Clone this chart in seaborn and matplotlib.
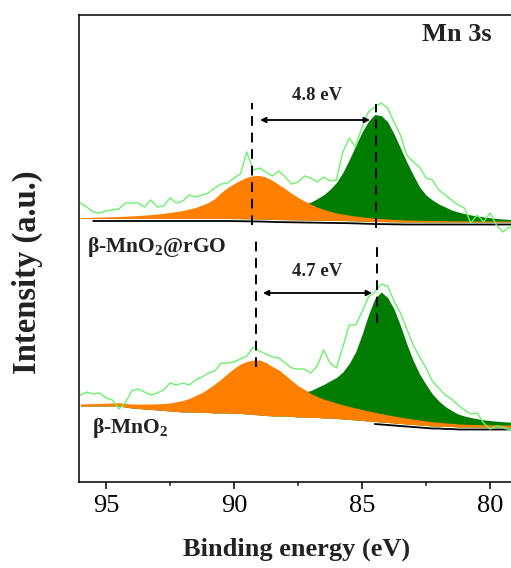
import numpy as np
import pandas as pd
import matplotlib
matplotlib.use("Agg")
import matplotlib.pyplot as plt
from matplotlib.ticker import MultipleLocator
import seaborn as sns

# ---------------- data ----------------
energy = np.round(np.arange(96.0, 78.99, -0.25), 2)   # binding energy grid, eV

# beta-MnO2@rGO (upper spectrum)
rgo_raw = [279, 275, 270, 269, 271, 272, 273, 279, 279, 279,
           275, 282, 275, 276, 284, 279, 281, 287, 285, 287,
           289, 294, 298, 299, 304, 308, 330, 312, 314, 310,
           306, 311, 305, 298, 300, 306, 304, 300, 305, 301,
           302, 330, 344, 335, 355, 370, 375, 379, 374, 360,
           347, 327, 320, 315, 304, 302, 292, 287, 282, 277,
           274, 259, 267, 260, 269, 257, 250, 255, 252]
rgo_base = [263.5] * 10 + [263.5] * 10 + \
           [263.5, 263.5, 263.5, 263.5, 263.4, 263.3, 263.2, 263.1, 263.0, 262.8,
            262.6, 262.4, 262.3, 262.2, 262.1, 262.0, 261.9, 261.8, 261.7, 261.6,
            261.5, 261.4, 261.3, 261.1, 260.9, 260.7, 260.5, 260.4, 260.3, 260.2,
            260.1] + [260.0] * 18
rgo_sat = [1.0, 1.0, 1.2, 1.4, 1.6, 1.8, 2.0, 2.3, 2.6, 3.0,
           3.4, 3.9, 4.5, 5.2, 6.0, 7.0, 8.0, 9.5, 11.0, 13.5,
           16.0, 20.0, 26.0, 31.0, 35.0, 38.5, 41.5, 43.2, 43.5, 42.0,
           39.0, 35.0, 31.0, 26.5, 22.5, 19.0, 16.0, 13.0, 11.0, 9.0,
           7.5, 6.5, 5.5, 4.8, 4.2, 3.7, 3.3, 3.0, 2.7, 2.4,
           2.2, 2.0, 1.8, 1.7, 1.6, 1.5, 1.4, 1.3, 1.2, 1.2,
           1.1, 1.1, 1.0, 1.0, 1.0, 1.0, 1.0, 1.0, 1.0]
rgo_main = [0.5, 0.5, 0.6, 0.6, 0.7, 0.7, 0.8, 0.8, 0.9, 1.0,
            1.0, 1.1, 1.2, 1.3, 1.4, 1.5, 1.6, 1.8, 2.0, 2.2,
            2.4, 2.7, 3.0, 3.3, 3.7, 4.1, 4.6, 5.2, 5.9, 6.7,
            7.6, 8.7, 10.0, 11.5, 13.3, 15.5, 18.0, 21.5, 25.5, 31.0,
            38.0, 48.0, 61.0, 75.0, 89.0, 100.0, 107.0, 106.0, 100.0, 88.0,
            74.0, 60.0, 47.0, 35.0, 27.0, 22.0, 18.0, 15.0, 12.0, 10.0,
            8.5, 7.0, 6.0, 5.0, 4.3, 3.6, 3.0, 2.6, 2.2]

# beta-MnO2 (lower spectrum)
mno2_raw = [87, 90, 88, 89, 84, 82, 73, 79, 91, 93,
            90, 87, 89, 92, 99, 97, 99, 97, 102, 105,
            109, 111, 119, 119, 120, 123, 126, 135, 131, 128,
            125, 124, 119, 114, 113, 113, 109, 116, 132, 119,
            114, 135, 157, 157, 170, 185, 190, 198, 196, 181,
            169, 153, 137, 125, 114, 101, 94, 87, 83, 77,
            72, 68, 69, 59, 53, 56, 55, 52, 54]
mno2_base = [76, 76, 76, 76, 76, 76, 76, 75, 74, 73.5,
             73, 72.5, 72, 71.5, 71, 70.5, 70, 70, 70, 69.5,
             69.5, 69, 69, 69, 68.5, 68.5, 68, 67.5, 67, 66.5,
             66, 66, 66, 65.5, 65, 65, 64.5, 64.5, 64, 64,
             63.5, 63, 62.5, 62, 61.5, 61, 60.5, 60, 59.5, 59,
             58.5, 58, 57.5, 57, 56.5, 56, 56, 55.5, 55.5, 55,
             55, 55, 55, 55, 55, 55, 55, 55, 55]
mno2_sat = [2.0, 2.2, 2.4, 2.6, 2.8, 3.0, 3.3, 3.6, 4.0, 4.4,
            4.9, 5.5, 6.2, 7.0, 8.0, 9.8, 11.5, 13.5, 16.5, 20.0,
            24.0, 29.0, 34.0, 39.5, 45.0, 49.5, 52.5, 54.5, 55.0, 53.0,
            49.5, 46.0, 41.0, 36.0, 31.5, 27.5, 24.0, 21.0, 19.0, 17.0,
            15.5, 14.2, 13.0, 12.0, 11.0, 10.0, 9.2, 8.4, 7.6, 7.0,
            6.4, 5.8, 5.3, 4.9, 4.5, 4.1, 3.8, 3.5, 3.2, 3.0,
            2.8, 2.6, 2.4, 2.3, 2.2, 2.1, 2.0, 1.9, 1.8]
mno2_main = [1.0, 1.0, 1.0, 1.1, 1.2, 1.3, 1.4, 1.5, 1.6, 1.7,
             1.8, 2.0, 2.2, 2.4, 2.6, 2.9, 3.2, 3.5, 3.9, 4.3,
             4.8, 5.3, 5.9, 6.6, 7.4, 8.3, 9.3, 10.5, 11.8, 13.3,
             15.0, 17.0, 19.0, 21.0, 23.0, 25.0, 27.0, 30.0, 33.5, 37.0,
             41.0, 47.0, 56.0, 68.0, 86.0, 106.0, 123.0, 130.0, 125.0, 114.0,
             98.0, 80.0, 64.0, 51.0, 41.0, 32.0, 25.0, 20.0, 16.0, 13.0,
             11.0, 9.5, 8.2, 7.2, 6.4, 5.8, 5.3, 4.9, 4.5]

# peak positions and splitting labels
rgo_centers = [89.3, 84.45]
mno2_centers = [89.15, 84.4]
splitting_labels = ["4.8 eV", "4.7 eV"]
sample_labels = [r"β-MnO$_2$@rGO", r"β-MnO$_2$"]
xticks_major = [95, 90, 85, 80]

# ---------------- style ----------------
sns.set_style("ticks")
plt.rcParams["font.family"] = ["Liberation Serif", "DejaVu Serif"]
plt.rcParams["mathtext.default"] = "regular"
plt.rcParams["mathtext.fontset"] = "custom"
plt.rcParams["mathtext.rm"] = "Liberation Serif"
plt.rcParams["mathtext.bf"] = "Liberation Serif:bold"

ORANGE = "#ff8000"
DKGREEN = "#007d00"
LTGREEN = "#6cf26c"
TXT = "#222222"

fig = plt.figure(figsize=(5.11, 5.68), dpi=100)
ax = fig.add_axes([79 / 511, 86 / 568, 1 - 79 / 511, 467 / 568])

df = pd.DataFrame({"E": energy})
spectra = [("rgo", rgo_raw, rgo_base, rgo_sat, rgo_main, 95.7),
           ("mno2", mno2_raw, mno2_base, mno2_sat, mno2_main, 84.7)]
for name, raw, base, sat, main, line_start in spectra:
    base = np.asarray(base, float)
    sat = np.asarray(sat, float)
    main = np.asarray(main, float)
    sel = energy <= line_start
    # background line
    ax.plot(energy[sel], base[sel] - 2.5, color="black", lw=1.3, zorder=1.5)
    ax.fill_between(energy, base, base + main, color=DKGREEN, lw=0, zorder=2)
    ax.fill_between(energy, base, base + sat, color=ORANGE, lw=0, zorder=3)
    df[name] = raw
    sns.lineplot(data=df, x="E", y=name, ax=ax, color=LTGREEN, lw=1.0,
                 estimator=None, sort=False, zorder=4)

# dashed peak markers
dash_kw = dict(color="black", lw=1.4, ls=(0, (5, 3.5)), zorder=6)
ax.plot([rgo_centers[0]] * 2, [257, 379], **dash_kw)
ax.plot([rgo_centers[1]] * 2, [254, 378], **dash_kw)
ax.plot([mno2_centers[0]] * 2, [115, 242], **dash_kw)
ax.plot([mno2_centers[1]] * 2, [159, 239], **dash_kw)

arrow_kw = dict(arrowstyle="<|-|>", color="black", lw=1.3, mutation_scale=8,
                shrinkA=0, shrinkB=0)
ax.annotate("", xy=(84.69, 362), xytext=(88.98, 362), arrowprops=arrow_kw, zorder=7)
ax.annotate("", xy=(84.61, 189), xytext=(88.87, 189), arrowprops=arrow_kw, zorder=7)

ax.text(86.76, 386, splitting_labels[0], ha="center", va="center",
        fontsize=13.5, fontweight="bold", color=TXT)
ax.text(86.76, 210.5, splitting_labels[1], ha="center", va="center",
        fontsize=13.5, fontweight="bold", color=TXT)
ax.text(95.74, 230, sample_labels[0], ha="left", va="baseline",
        fontsize=15.5, fontweight="bold", color=TXT)
ax.text(95.55, 49, sample_labels[1], ha="left", va="baseline",
        fontsize=15.5, fontweight="bold", color=TXT)
ax.text(81.29, 447.5, "Mn 3s", ha="center", va="center",
        fontsize=19, fontweight="bold", color=TXT)

# axes
ax.set_xlim(96.055, 79.18)
ax.set_ylim(0, 467)
ax.xaxis.set_minor_locator(MultipleLocator(2.5))
ax.set_xticks(xticks_major)
ax.set_xticklabels([str(t) for t in xticks_major])
ax.set_yticks([])
ax.tick_params(axis="x", which="major", direction="out", length=5, width=1.1,
               labelsize=19, pad=4, colors="black")
ax.tick_params(axis="x", which="minor", direction="out", length=3, width=1.1)
for side in ["left", "bottom", "top"]:
    ax.spines[side].set_linewidth(1.1)
    ax.spines[side].set_color("black")
ax.spines["right"].set_visible(False)

ax.set_xlabel("Binding energy (eV)", fontsize=19, fontweight="bold", color=TXT)
ax.set_ylabel("Intensity (a.u.)", fontsize=23.5, fontweight="bold", color=TXT)
ax.xaxis.set_label_coords((297 - 79) / 432, (482 - 538) / 467)
ax.yaxis.set_label_coords((43 - 79) / 432, (482 - 272) / 467)

fig.savefig("out.png", dpi=100)
